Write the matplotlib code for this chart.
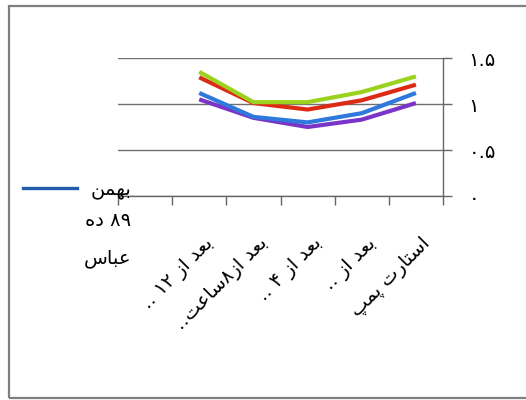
import re
import matplotlib
matplotlib.use("Agg")
import matplotlib.pyplot as plt
from matplotlib.lines import Line2D
from matplotlib.patches import Rectangle
from matplotlib.transforms import blended_transform_factory, ScaledTranslation

plt.rcParams['font.family'] = ['DejaVu Sans']

# ---- data -------------------------------------------------------------
categories = ["استارت پمپ", "بعد از ..", "بعد از ۴ ..", "بعد از۸ساعت..", "بعد از ۱۲ .."]
series_green = [1.30, 1.13, 1.02, 1.02, 1.35]
series_red = [1.21, 1.04, 0.94, 1.01, 1.29]
series_blue = [1.12, 0.90, 0.80, 0.86, 1.12]
series_purple = [1.01, 0.83, 0.75, 0.85, 1.05]
y_ticks = [0, 0.5, 1, 1.5]
y_tick_labels = ["۰", "۰.۵", "۱", "۱.۵"]
legend_lines = ["بهمن", "۸۹ ده", "عباس"]

# ---- minimal Arabic-script shaping (presentation forms) ---------------
FORMS = {
    'ا': (0xFE8D, 0xFE8E, None, None),
    'ب': (0xFE8F, 0xFE90, 0xFE91, 0xFE92),
    'ت': (0xFE95, 0xFE96, 0xFE97, 0xFE98),
    'د': (0xFEA9, 0xFEAA, None, None),
    'ر': (0xFEAD, 0xFEAE, None, None),
    'ز': (0xFEAF, 0xFEB0, None, None),
    'س': (0xFEB1, 0xFEB2, 0xFEB3, 0xFEB4),
    'ع': (0xFEC9, 0xFECA, 0xFECB, 0xFECC),
    'م': (0xFEE1, 0xFEE2, 0xFEE3, 0xFEE4),
    'ن': (0xFEE5, 0xFEE6, 0xFEE7, 0xFEE8),
    'ه': (0xFEE9, 0xFEEA, 0xFEEB, 0xFEEC),
    'پ': (0xFB56, 0xFB57, 0xFB58, 0xFB59),
}


def shape(word):
    out = []
    n = len(word)
    for i, ch in enumerate(word):
        f = FORMS.get(ch)
        if f is None:
            out.append(ch)
            continue
        prev = word[i - 1] if i > 0 else None
        nxt = word[i + 1] if i + 1 < n else None
        join_prev = prev in FORMS and FORMS[prev][2] is not None
        join_next = nxt in FORMS and f[2] is not None
        if join_prev and join_next:
            out.append(chr(f[3]))
        elif join_prev:
            out.append(chr(f[1]))
        elif join_next:
            out.append(chr(f[2]))
        else:
            out.append(chr(f[0]))
    return ''.join(out)


def rtl(text):
    """Shape the text and order it right-to-left, keeping numbers left-to-right."""
    shaped = shape(text)
    runs = re.findall(r'[۰-۹0-9]+|[^۰-۹0-9]+', shaped)
    return ''.join(r if r[0].isdigit() else r[::-1] for r in reversed(runs))


# ---- figure -----------------------------------------------------------
W, H = 526, 400
fig = plt.figure(figsize=(W / 100, H / 100), dpi=100)
fig.patch.set_facecolor('white')

# outer chart frame
fig.add_artist(Rectangle((8.5 / W, 1 - 397.5 / H), 1.2, (397.5 - 5.5) / H,
                         transform=fig.transFigure, fill=False,
                         edgecolor='#7f7f7f', linewidth=1.6, clip_on=False))

ax = fig.add_axes([118 / W, 1 - 196 / H, (443 - 118) / W, (196 - 58) / H])
ax.set_facecolor('white')

x = list(range(len(categories)))
ax.plot(x, series_purple, color='#7a35c8', linewidth=3.0, solid_capstyle='butt', zorder=3)
ax.plot(x, series_blue, color='#2f78dc', linewidth=3.0, solid_capstyle='butt', zorder=4)
ax.plot(x, series_red, color='#dd2a14', linewidth=3.0, solid_capstyle='butt', zorder=3)
ax.plot(x, series_green, color='#9ad21e', linewidth=3.0, solid_capstyle='butt', zorder=4)

ax.set_xlim(len(categories) + 0.5, -0.5)
ax.set_ylim(0, 1.5)

# y axis on the right
ax.yaxis.tick_right()
ax.set_yticks(y_ticks)
ax.set_yticklabels(y_tick_labels, fontsize=14)
ax.tick_params(axis='y', direction='out', length=6.5, width=1.0, color='#666666', pad=12)
ax.yaxis.grid(True, color='#707070', linewidth=1.0)
ax.set_axisbelow(True)

# x axis: tick marks between categories, labels drawn separately
ax.set_xticks([i - 0.5 for i in range(len(categories) + 2)])
ax.set_xticklabels([])
ax.tick_params(axis='x', direction='out', length=6.5, width=1.0, color='#666666')

for side in ('left', 'top'):
    ax.spines[side].set_visible(False)
for side in ('right', 'bottom'):
    ax.spines[side].set_color('#666666')
    ax.spines[side].set_linewidth(1.0)

trans = blended_transform_factory(ax.transData, ax.transAxes)
offset = ScaledTranslation(5 / 100, -38 / 100, fig.dpi_scale_trans)
for i, label in enumerate(categories):
    ax.text(i, 0, rtl(label), transform=trans + offset, rotation=45,
            rotation_mode='anchor', ha='right', va='top', fontsize=14, clip_on=False)

# legend entry
fig.add_artist(Line2D([23 / W, 77 / W], [1 - 188 / H, 1 - 188 / H],
                      transform=fig.transFigure, color='#1f5cad', linewidth=2.4))
for text, ypix in zip(legend_lines, [190, 221, 258]):
    fig.text(131 / W, 1 - ypix / H, rtl(text), ha='right', va='center', fontsize=14)

fig.savefig('out.png', dpi=100)
